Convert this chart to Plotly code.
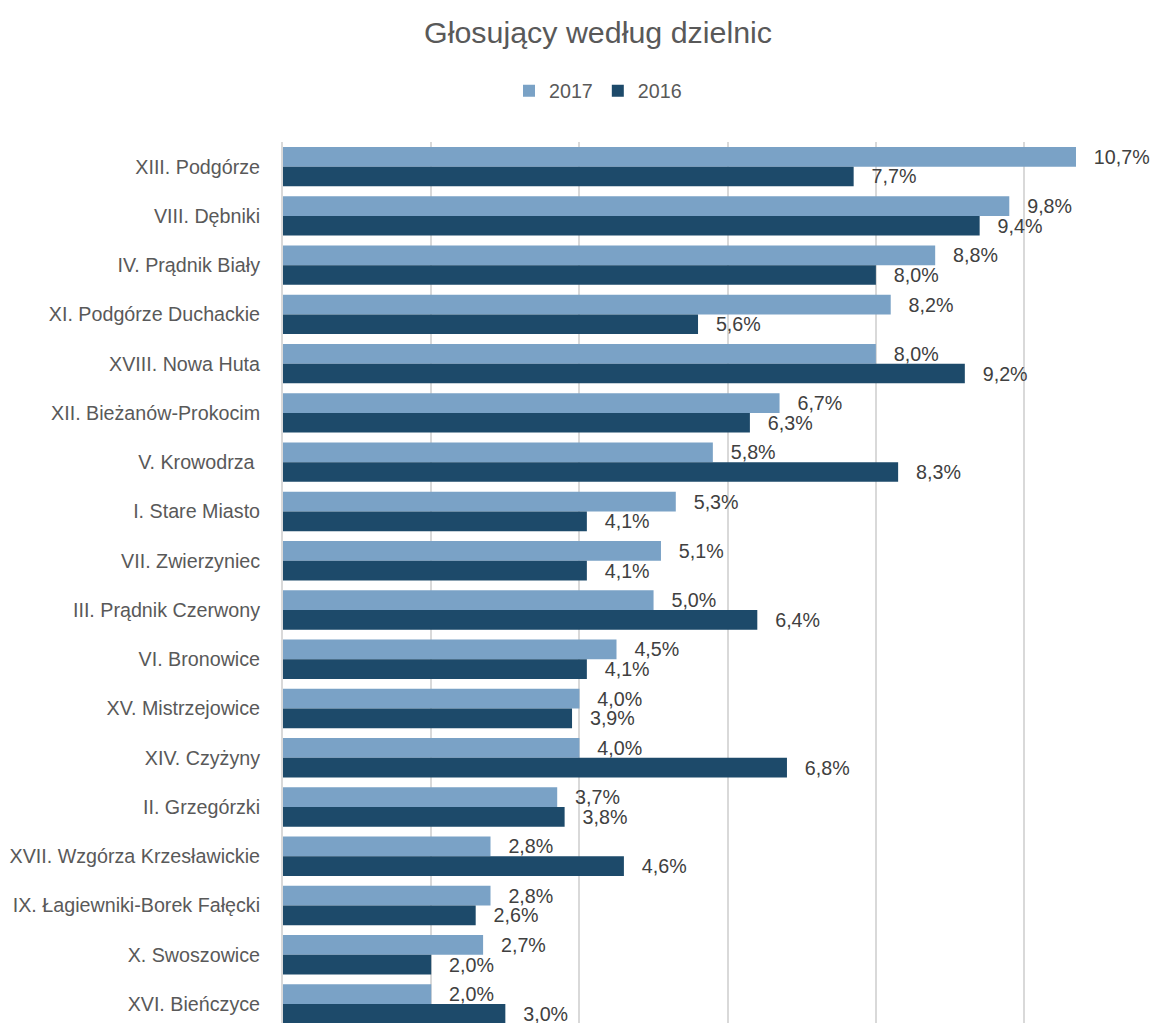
import plotly.graph_objects as go

# Districts of Kraków, top to bottom
districts = [
    "XIII. Podgórze",
    "VIII. Dębniki",
    "IV. Prądnik Biały",
    "XI. Podgórze Duchackie",
    "XVIII. Nowa Huta",
    "XII. Bieżanów-Prokocim",
    "V. Krowodrza ",
    "I. Stare Miasto",
    "VII. Zwierzyniec",
    "III. Prądnik Czerwony",
    "VI. Bronowice",
    "XV. Mistrzejowice",
    "XIV. Czyżyny",
    "II. Grzegórzki",
    "XVII. Wzgórza Krzesławickie",
    "IX. Łagiewniki-Borek Fałęcki",
    "X. Swoszowice",
    "XVI. Bieńczyce",
]

# Share of voters per district (%)
share_2017 = [10.7, 9.8, 8.8, 8.2, 8.0, 6.7, 5.8, 5.3, 5.1, 5.0, 4.5, 4.0, 4.0, 3.7, 2.8, 2.8, 2.7, 2.0]
share_2016 = [7.7, 9.4, 8.0, 5.6, 9.2, 6.3, 8.3, 4.1, 4.1, 6.4, 4.1, 3.9, 6.8, 3.8, 4.6, 2.6, 2.0, 3.0]

series = [("2017", share_2017, "#7AA2C6"), ("2016", share_2016, "#1D4A6A")]

FONT = "Liberation Sans Narrow, Arial Narrow, Liberation Sans, Arial, sans-serif"
PAD = "\u00a0\u00a0\u2009"


def pct(v):
    return PAD + f"{v:.1f}".replace(".", ",") + "%"


fig = go.Figure()
for name, vals, color in series:
    fig.add_trace(go.Bar(
        name=name,
        y=districts,
        x=vals,
        orientation="h",
        marker=dict(color=color, line=dict(width=0)),
        text=[pct(v) for v in vals],
        textposition="outside",
        constraintext="none",
        cliponaxis=False,
        textfont=dict(family=FONT, size=19.7, color="#404040"),
        hoverinfo="skip",
    ))

fig.update_layout(
    width=1159,
    height=1023,
    barmode="group",
    bargap=0.2,
    bargroupgap=0,
    plot_bgcolor="white",
    paper_bgcolor="white",
    margin=dict(l=283, r=0, t=142, b=0, autoexpand=False),
    font=dict(family=FONT, color="#595959"),
    title=dict(
        text="Głosujący według dzielnic",
        font=dict(family=FONT, size=30.4, color="#595959"),
        x=598 / 1159, xref="container", xanchor="center",
        y=1 - 32 / 1023, yref="container", yanchor="middle",
    ),
    legend=dict(
        orientation="h",
        x=598 / 1159, xref="container", xanchor="center",
        y=1 - 91 / 1023, yref="container", yanchor="middle",
        font=dict(family=FONT, size=19.7, color="#595959"),
        itemclick=False,
    ),
    xaxis=dict(
        range=[0, 11.82],
        dtick=2,
        showticklabels=False,
        showgrid=True,
        gridcolor="#D9D9D9",
        gridwidth=1.5,
        zeroline=False,
        showline=False,
        automargin=False,
    ),
    yaxis=dict(
        categoryorder="array",
        categoryarray=districts,
        range=[17.386, -0.5],
        showgrid=False,
        showline=True,
        linecolor="#D9D9D9",
        linewidth=2,
        ticks="",
        ticklabelstandoff=17,
        automargin=False,
        tickfont=dict(family=FONT, size=19.7, color="#595959"),
    ),
)

fig.write_html("out.html")
